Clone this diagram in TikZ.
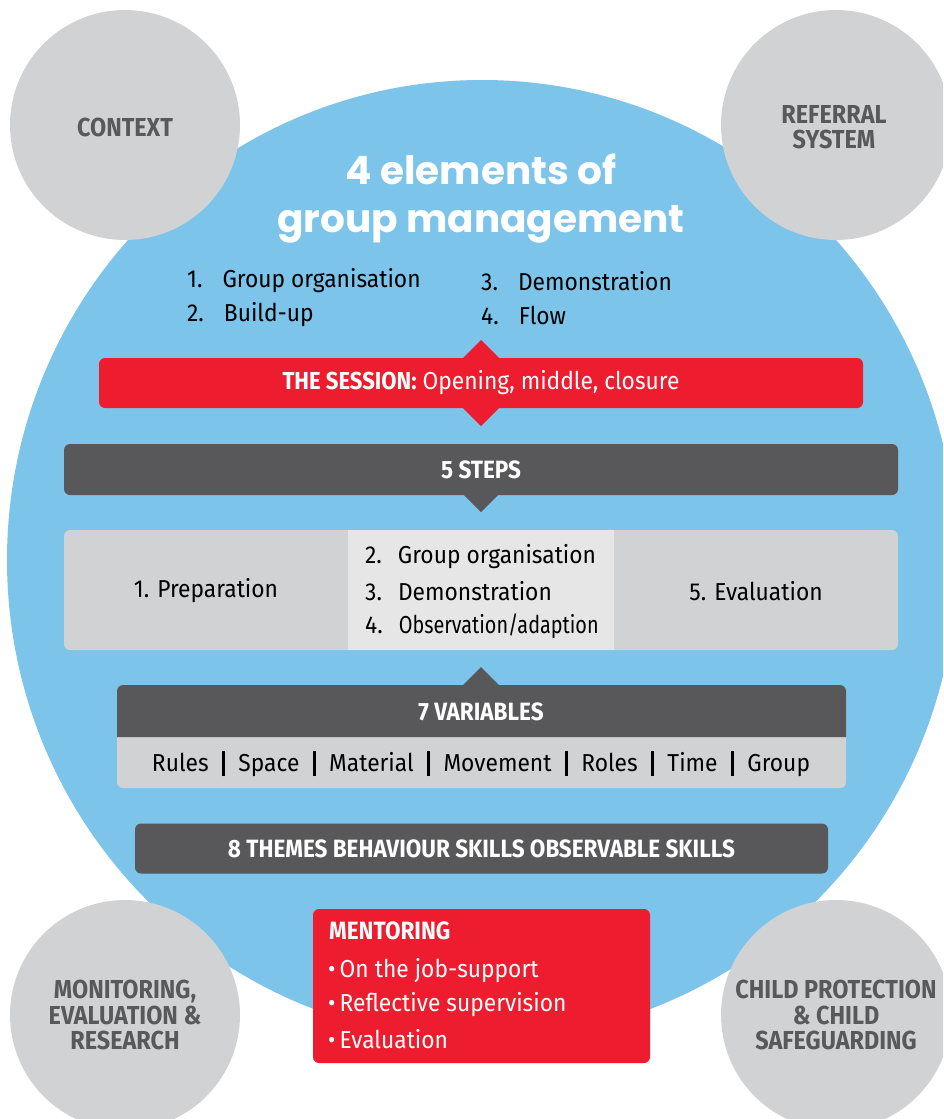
\documentclass[tikz,border=0pt]{standalone}
\usepackage{fontspec}
\usepackage{graphicx}
\setmainfont{Fira Sans}[FakeStretch=0.93]
\newfontfamily\hd{Fira Sans}[FakeStretch=0.9]
\newfontfamily\tit{Poppins}
\usetikzlibrary{calc}
\definecolor{bluebg}{HTML}{7DC4EA}
\definecolor{grayc}{HTML}{D1D2D4}
\definecolor{lightc}{HTML}{E6E6E7}
\definecolor{darkc}{HTML}{58585A}
\definecolor{textc}{HTML}{58595B}
\definecolor{redc}{HTML}{ED1C2E}
\newcommand{\vbar}{\hspace{13.5pt}\rule[-5pt]{2.8pt}{25pt}\hspace{13.5pt}}
\tikzset{
  gcirc/.style={fill=grayc, circle, minimum size=230pt, inner sep=0pt},
  gtext/.style={text=textc, align=center, font=\hd\bfseries\fontsize{26}{25.5}\selectfont},
  darkbox/.style={fill=darkc, rounded corners=6pt, inner sep=0pt, text=white, font=\hd\bfseries\fontsize{25}{26}\selectfont},
  redbox/.style={fill=redc, rounded corners=6pt, inner sep=0pt, text=white},
  body/.style={font=\fontsize{24.5}{26}\selectfont, inner sep=0pt},
}
\begin{document}
\begin{tikzpicture}[x=1pt,y=-1pt]
\useasboundingbox (0,0) rectangle (943,1119);
\clip (0,0) rectangle (943,1119);
% big blue ellipse
\fill[bluebg] (482,560) ellipse [x radius=475pt, y radius=480pt];
% grey circles
\node[gcirc] (ctx) at (125,125) {};
\node[gcirc] (ref) at (836,125) {};
\node[gcirc] (mon) at (125,1015) {};
\node[gcirc] (cp) at (836,1015) {};
\node[gtext] at ($(ctx.center)+(0,2)$) {CONTEXT};
\node[gtext] at ($(ref.center)+(-2,2)$) {REFERRAL\\SYSTEM};
\node[gtext] at ($(mon.center)+(0,0)$) {MONITORING,\\EVALUATION \&\\RESEARCH};
\node[gtext] at ($(cp.center)+(0,0)$) {CHILD PROTECTION\\\& CHILD\\SAFEGUARDING};
% title
\node[text=white, font=\tit\bfseries\fontsize{39}{48}\selectfont, align=center] (title) at (481,199) {4 elements of\\group management};
% four elements list
\node[body, anchor=west] (e1) at (187,281) {1.\hspace{20pt}Group organisation};
\node[body, anchor=west] (e2) at (187,315) {2.\hspace{20pt}Build-up};
\node[body, anchor=west] (e3) at (481,281) {3.\hspace{20pt}Demonstration};
\node[body, anchor=west] (e4) at (481,315) {4.\hspace{20pt}Flow};
% session
\fill[redc] (463,358) -- (481,340) -- (499,358) -- cycle;
\fill[redc] (463,408) -- (481,426) -- (499,408) -- cycle;
\node[redbox, minimum width=764pt, minimum height=50pt] (session) at (481,383)
  {\fontsize{24.5}{26}\selectfont{\hd\bfseries THE SESSION:} Opening, middle, closure};
% 5 steps
\node[darkbox, minimum width=834pt, minimum height=51pt] (steps) at (481,469.5) {5 STEPS};
\fill[darkc] (464,495) -- (481,512) -- (498,495) -- cycle;
% steps content box
\node[fill=grayc, rounded corners=6pt, minimum width=834pt, minimum height=120pt, inner sep=0pt] (stepbox) at (481,590) {};
\fill[lightc] (348,530) rectangle (614,650);
\node[body] (s1) at (206,591) {1. Preparation};
\node[body] (s5) at (756,591) {5. Evaluation};
\node[body, anchor=west] (s2) at (365,557) {2.\hspace{16pt}Group organisation};
\node[body, anchor=west] (s3) at (365,591) {3.\hspace{16pt}Demonstration};
\node[body, anchor=west] (s4) at (365,626) {4.\hspace{16pt}\scalebox{0.87}[1]{Observation/adaption}};
% 7 variables
\fill[darkc] (463,685) -- (481,667) -- (499,685) -- cycle;
\node[fill=grayc, rounded corners=6pt, minimum width=729pt, minimum height=103pt, inner sep=0pt] (varbox) at (481.5,736.5) {};
\fill[darkc] (117,737) [rounded corners=6pt] -- (117,685) -- (846,685) [sharp corners] -- (846,737) -- cycle;
\node[text=white, font=\hd\bfseries\fontsize{25}{26}\selectfont] (vtitle) at (481,712) {7 VARIABLES};
\node[body] (vars) at (481,764) {Rules\vbar Space\vbar Material\vbar Movement\vbar Roles\vbar Time\vbar Group};
% 8 themes
\node[darkbox, minimum width=693pt, minimum height=50pt] (themes) at (481.5,848.5) {8 THEMES BEHAVIOUR SKILLS OBSERVABLE SKILLS};
% mentoring
\node[redbox, minimum width=337pt, minimum height=154pt] (ment) at (481.5,986) {};
\node[text=white, anchor=west, inner sep=0pt, font=\hd\bfseries\fontsize{25}{26}\selectfont] (mt) at (329,931) {MENTORING};
\node[body, text=white, anchor=west] (m1) at (328,971) {\textbullet\,On the job-support};
\node[body, text=white, anchor=west] (m2) at (328,1005) {\textbullet\,Reflective supervision};
\node[body, text=white, anchor=west] (m3) at (328,1039) {\textbullet\,Evaluation};
\end{tikzpicture}
\end{document}
